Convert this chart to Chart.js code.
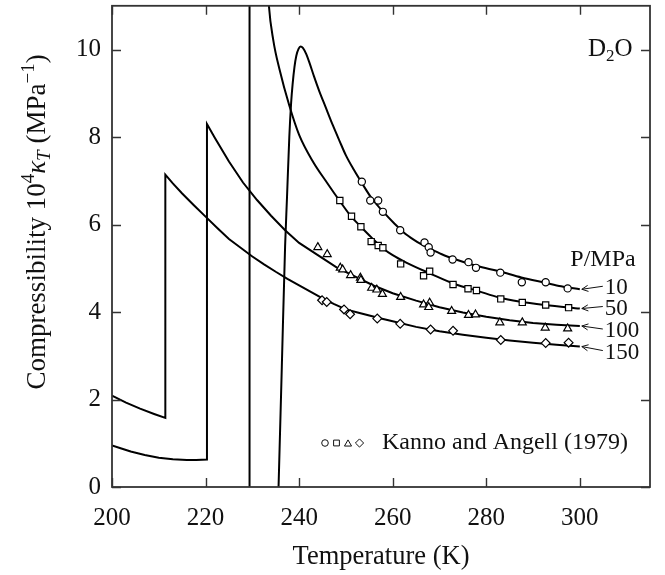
<!DOCTYPE html>
<html><head><meta charset="utf-8">
<script src="https://cdn.jsdelivr.net/npm/chart.js@4"></script>
<style>html,body{margin:0;padding:0;background:#fff}</style>
</head><body>
<canvas id="c" width="665" height="575"></canvas>
<script>
// ---- Model curves (temperature K, 10^4 kappa_T in MPa^-1) ----
const T10 = [235.5, 236.3, 237.0, 237.4, 237.9, 238.3, 238.6, 239.0, 239.4, 239.9, 240.3, 240.8, 241.5, 242.2, 243.2, 244.3, 245.6, 247.2, 248.6, 250.0, 251.7, 253.4, 255.5, 257.9, 260.3, 262.9, 265.3, 267.8, 270.5, 273.5, 278.0, 282.8, 287.5, 292.6, 296.0, 300.0];
const K10 = [-0.4, 2.75, 5.5, 6.6, 8.0, 8.8, 9.2, 9.6, 9.86, 10.02, 10.07, 10.04, 9.9, 9.7, 9.38, 9.05, 8.7, 8.27, 7.92, 7.58, 7.25, 6.95, 6.6, 6.3, 6.03, 5.77, 5.6, 5.46, 5.32, 5.2, 5.05, 4.93, 4.79, 4.67, 4.59, 4.52];

const T50 = [229.4, 229.4, 232.3, 232.8, 233.5, 234.5, 235.8, 237.9, 240.0, 243.0, 246.0, 248.6, 251.0, 253.2, 255.5, 257.9, 260.0, 262.9, 267.8, 273.5, 278.0, 282.8, 287.0, 292.6, 300.0];
const K50 = [-1, 14, 14, 12.5, 11.05, 10.2, 9.55, 8.72, 8.05, 7.43, 6.95, 6.55, 6.2, 5.95, 5.7, 5.46, 5.3, 5.13, 4.89, 4.63, 4.49, 4.33, 4.24, 4.16, 4.08];

const T100 = [200, 202, 204, 207, 210, 213, 216, 218, 220.3, 220.3, 222, 225, 228, 231, 234, 237, 240, 244, 248, 252, 256, 260, 265, 270, 275, 280, 285, 290, 295, 300];
const K100 = [0.95, 0.88, 0.81, 0.73, 0.67, 0.635, 0.615, 0.615, 0.63, 8.3, 7.98, 7.44, 6.96, 6.56, 6.2, 5.87, 5.58, 5.3, 5.02, 4.81, 4.6, 4.43, 4.26, 4.11, 3.99, 3.89, 3.81, 3.75, 3.71, 3.68];

const T150 = [200, 203, 206, 209, 211.4, 211.4, 213, 215, 217.5, 220, 222.5, 225, 227.5, 230, 232.5, 235, 237.5, 240, 242.5, 245, 247.5, 250, 252.5, 255, 257.5, 260, 265, 270, 275, 280, 285, 290, 295, 300];
const K150 = [2.09, 1.93, 1.79, 1.67, 1.58, 7.14, 6.94, 6.71, 6.44, 6.18, 5.92, 5.67, 5.47, 5.27, 5.09, 4.92, 4.76, 4.61, 4.46, 4.31, 4.18, 4.06, 3.99, 3.92, 3.85, 3.79, 3.66, 3.56, 3.48, 3.41, 3.35, 3.3, 3.25, 3.21];

// ---- Kanno and Angell (1979) measurements ----
const expT10 = [253.4, 255.2, 256.9, 257.9, 261.6, 266.8, 267.7, 268.1, 272.8, 276.2, 277.8, 283.0, 287.6, 292.7, 297.4];
const expK10 = [6.98, 6.55, 6.55, 6.29, 5.87, 5.59, 5.48, 5.36, 5.20, 5.14, 5.01, 4.90, 4.68, 4.68, 4.54];
const expT50 = [248.7, 251.2, 253.2, 255.4, 256.9, 257.9, 261.7, 266.6, 267.9, 272.9, 276.1, 277.9, 283.1, 287.7, 292.7, 297.6];
const expK50 = [6.55, 6.19, 5.95, 5.61, 5.52, 5.47, 5.10, 4.83, 4.93, 4.63, 4.53, 4.49, 4.30, 4.22, 4.16, 4.10];
const expT100 = [244.0, 246.0, 248.8, 249.3, 251.0, 253.1, 253.2, 255.5, 256.6, 257.8, 261.7, 266.6, 267.9, 267.7, 272.6, 276.2, 277.7, 282.9, 287.7, 292.6, 297.4];
const expK100 = [5.48, 5.32, 5.01, 4.97, 4.84, 4.78, 4.73, 4.55, 4.51, 4.41, 4.34, 4.17, 4.21, 4.11, 4.02, 3.93, 3.94, 3.76, 3.76, 3.64, 3.62];
const expT150 = [244.9, 245.9, 249.6, 250.9, 256.7, 261.6, 268.1, 272.9, 283.1, 292.7, 297.6];
const expK150 = [4.27, 4.23, 4.06, 3.95, 3.85, 3.73, 3.60, 3.57, 3.36, 3.29, 3.30];

// ---- ticks and labels ----
const xTicks = [200, 220, 240, 260, 280, 300];
const yTicks = [0, 2, 4, 6, 8, 10];
const pressureLabels = ['10', '50', '100', '150'];
const xTitle = 'Temperature (K)';
const legendText = 'Kanno and Angell (1979)';

const SERIF = '"Liberation Serif", "Times New Roman", serif';
const xy = (ts, ks) => ts.map((t, i) => ({x: t, y: ks[i]}));
const curve = (label, ts, ks, smooth) => ({label, data: xy(ts, ks), showLine: true, borderColor: '#000', borderWidth: 2, pointRadius: 0, pointHoverRadius: 0, tension: smooth ? 0.4 : 0, cubicInterpolationMode: smooth ? 'monotone' : 'default', order: 2});
const marks = (label, ts, ks, style, r) => ({label, data: xy(ts, ks), showLine: false, pointStyle: style, pointRadius: r, pointHoverRadius: r, pointBorderColor: '#000', pointBackgroundColor: '#fff', pointBorderWidth: 1.2, order: 1});

const markStyles = [['circle', 3.6], ['rect', 4.4], ['triangle', 4.6], ['rectRot', 4.4]];

const decor = {
  id: 'decor',
  afterDatasetsDraw(chart) {
    const {ctx, chartArea: a, scales: {x, y}} = chart;
    ctx.save();
    ctx.strokeStyle = '#333';
    ctx.lineWidth = 1.8;
    ctx.strokeRect(a.left, a.top, a.right - a.left, a.bottom - a.top);
    ctx.lineWidth = 1.4;
    ctx.beginPath();
    x.ticks.forEach(t => {
      const p = Math.round(x.getPixelForValue(t.value)) + 0.5;
      ctx.moveTo(p, a.bottom); ctx.lineTo(p, a.bottom - 9);
      ctx.moveTo(p, a.top); ctx.lineTo(p, a.top + 9);
    });
    y.ticks.forEach(t => {
      const p = Math.round(y.getPixelForValue(t.value)) + 0.5;
      ctx.moveTo(a.left, p); ctx.lineTo(a.left + 9, p);
      ctx.moveTo(a.right, p); ctx.lineTo(a.right - 9, p);
    });
    ctx.stroke();
    ctx.restore();
  },
  afterDraw(chart) {
    const {ctx, chartArea: a, scales: {x, y}} = chart;
    ctx.save();
    ctx.fillStyle = '#111';
    ctx.strokeStyle = '#111';
    // x title
    ctx.font = '26.5px ' + SERIF;
    ctx.textAlign = 'center';
    ctx.textBaseline = 'middle';
    ctx.fillText(xTitle, (a.left + a.right) / 2, 557);

    // y title (rotated, with super/subscripts)
    const segs = [
      {t: 'Compressibility 10', f: '27px ' + SERIF, dy: 0},
      {t: '4', f: '19px ' + SERIF, dy: -11},
      {t: 'κ', f: 'italic 27px ' + SERIF, dy: 0},
      {t: 'T', f: 'italic 19px ' + SERIF, dy: 5},
      {t: ' (MPa', f: '27px ' + SERIF, dy: 0},
      {t: '−1', f: '19px ' + SERIF, dy: -11},
      {t: ')', f: '27px ' + SERIF, dy: 0}
    ];
    let total = 0;
    segs.forEach(s => { ctx.font = s.f; s.w = ctx.measureText(s.t).width; total += s.w; });
    ctx.save();
    ctx.translate(45, 222);
    ctx.rotate(-Math.PI / 2);
    ctx.textAlign = 'left';
    ctx.textBaseline = 'alphabetic';
    let cx = -total / 2;
    segs.forEach(s => { ctx.font = s.f; ctx.fillText(s.t, cx, s.dy); cx += s.w; });
    ctx.restore();

    // D2O
    ctx.textAlign = 'left';
    ctx.textBaseline = 'alphabetic';
    let dx = 588;
    ctx.font = '25px ' + SERIF; ctx.fillText('D', dx, 56); dx += ctx.measureText('D').width;
    ctx.font = '17px ' + SERIF; ctx.fillText('2', dx, 61); dx += ctx.measureText('2').width;
    ctx.font = '25px ' + SERIF; ctx.fillText('O', dx, 56);

    // P/MPa header
    ctx.font = '24px ' + SERIF;
    ctx.textAlign = 'center';
    ctx.textBaseline = 'middle';
    ctx.fillText('P/MPa', 603, a.top + 254);

    // pressure labels with arrows pointing at curve ends
    const ends = [[T10, K10], [T50, K50], [T100, K100], [T150, K150]];
    const labelDy = [-1, 0, 5, 6];
    ctx.font = '23px ' + SERIF;
    ctx.textAlign = 'left';
    ctx.lineWidth = 1;
    ends.forEach(([ts, ks], i) => {
      const tipX = x.getPixelForValue(ts[ts.length - 1]) + 2;
      const tipY = y.getPixelForValue(ks[ks.length - 1]);
      const ly = tipY + labelDy[i];
      const tailX = tipX + 21, tailY = ly - 2;
      ctx.beginPath();
      ctx.moveTo(tailX, tailY); ctx.lineTo(tipX, tipY);
      const ang = Math.atan2(tipY - tailY, tipX - tailX);
      const hl = 7;
      ctx.moveTo(tipX - hl * Math.cos(ang - 0.45), tipY - hl * Math.sin(ang - 0.45));
      ctx.lineTo(tipX, tipY);
      ctx.lineTo(tipX - hl * Math.cos(ang + 0.45), tipY - hl * Math.sin(ang + 0.45));
      ctx.stroke();
      ctx.fillText(pressureLabels[i], tipX + 23, ly);
    });

    // legend: marker symbols + text
    const ly = 443;
    const mx = [325, 336.5, 348, 359.5];
    const ms = [3.3, 4.1, 4.1, 4.1];
    markStyles.forEach((st, i) => {
      ctx.fillStyle = '#fff';
      ctx.strokeStyle = '#111';
      ctx.lineWidth = 1;
      Chart.helpers.drawPoint(ctx, {pointStyle: st[0], radius: ms[i], borderWidth: 1, rotation: 0}, mx[i], st[0] === 'triangle' ? ly + 1 : ly);
    });
    ctx.fillStyle = '#111';
    ctx.font = '24px ' + SERIF;
    ctx.textAlign = 'left';
    ctx.textBaseline = 'middle';
    ctx.fillText(legendText, 382, ly);
    ctx.restore();
  }
};

new Chart(document.getElementById('c'), {
  type: 'scatter',
  data: {
    datasets: [
      marks('10 MPa data', expT10, expK10, markStyles[0][0], markStyles[0][1]),
      marks('50 MPa data', expT50, expK50, markStyles[1][0], markStyles[1][1]),
      marks('100 MPa data', expT100, expK100, markStyles[2][0], markStyles[2][1]),
      marks('150 MPa data', expT150, expK150, markStyles[3][0], markStyles[3][1]),
      curve('10 MPa', T10, K10, true),
      curve('50 MPa', T50, K50, true),
      curve('100 MPa', T100, K100, false),
      curve('150 MPa', T150, K150, false)
    ]
  },
  options: {
    responsive: false,
    animation: false,
    events: [],
    layout: {padding: {top: 3, right: 15, left: 0, bottom: 0}},
    plugins: {legend: {display: false}, tooltip: {enabled: false}},
    scales: {
      x: {
        type: 'linear', min: 200, max: 315,
        grid: {display: false, drawTicks: false},
        border: {display: false},
        afterBuildTicks: s => { s.ticks = xTicks.map(v => ({value: v})); },
        afterFit: s => { s.height = 88; s.paddingLeft = 0; s.paddingRight = 0; },
        ticks: {autoSkip: false, maxRotation: 0, padding: 16, color: '#111', font: {family: SERIF, size: 25}}
      },
      y: {
        type: 'linear', min: 0, max: 11,
        grid: {display: false, drawTicks: false},
        border: {display: false},
        afterBuildTicks: s => { s.ticks = yTicks.map(v => ({value: v})); },
        afterFit: s => { s.width = 112; s.paddingTop = 0; s.paddingBottom = 0; },
        ticks: {autoSkip: false, padding: 11, color: '#111', font: {family: SERIF, size: 25}}
      }
    }
  },
  plugins: [decor]
});
</script>
</body></html>
